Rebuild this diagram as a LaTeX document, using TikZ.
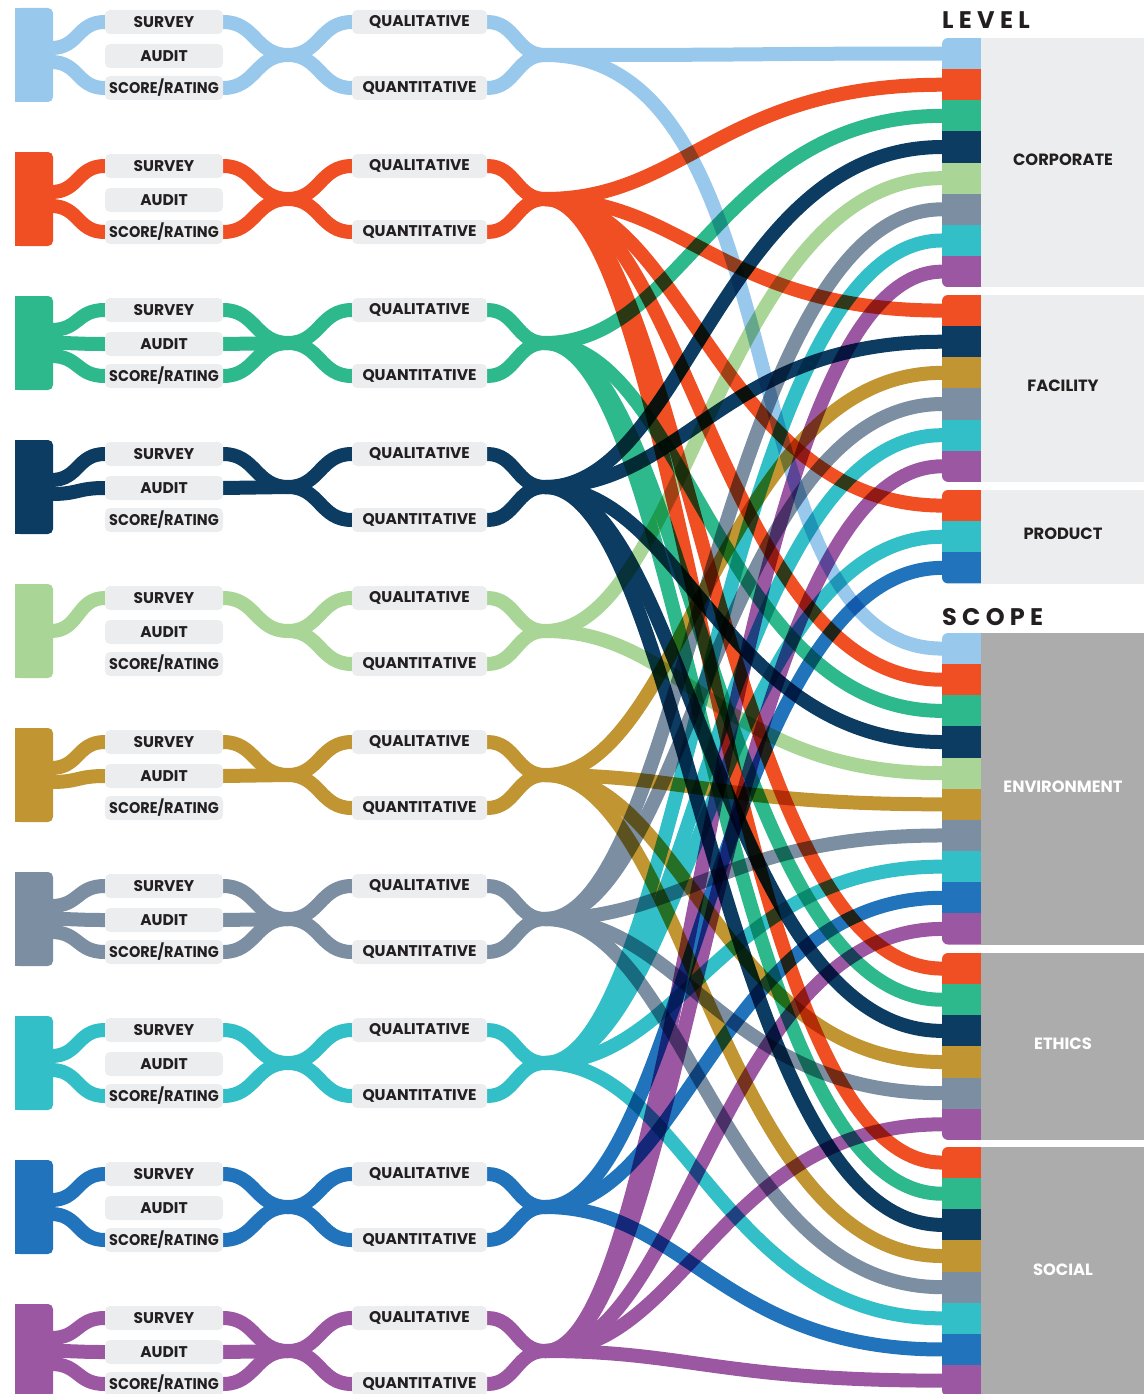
\documentclass[tikz,border=0pt]{standalone}
\usepackage{fontspec}
\setmainfont{Poppins}
\newfontfamily\headfont{Poppins}[LetterSpace=22]
\usetikzlibrary{calc}
\definecolor{lb}{HTML}{98C8EB}
\definecolor{or}{HTML}{F04E23}
\definecolor{gr}{HTML}{2DB98B}
\definecolor{nv}{HTML}{0C3C61}
\definecolor{lg}{HTML}{A9D696}
\definecolor{gd}{HTML}{C09532}
\definecolor{gy}{HTML}{7B8EA2}
\definecolor{tl}{HTML}{33BFC7}
\definecolor{bl}{HTML}{2174BC}
\definecolor{pu}{HTML}{9C57A3}
\definecolor{boxc}{HTML}{ECEDEF}
\definecolor{lvlc}{HTML}{ECEDEE}
\definecolor{scpc}{HTML}{ABACAB}
\definecolor{txt}{HTML}{231F20}
\pgfdeclarelayer{bg}
\pgfsetlayers{bg,main}
\tikzset{
  ribbon/.style={line width=14pt, line cap=butt},
  lbl/.style={fill=boxc, rounded corners=5pt, minimum height=24pt, inner sep=0pt,
    font=\bfseries\fontsize{15.5}{15.5}\selectfont, text=txt},
  mth/.style={lbl, minimum width=118pt},
  qq/.style={lbl, minimum width=135pt},
  tabbox/.style={rounded corners=5pt, minimum width=38pt, minimum height=94pt, inner sep=0pt},
  slotbox/.style={minimum width=39pt, minimum height=31.3pt, inner sep=0pt, outer sep=0pt},
  boxlabel/.style={font=\bfseries\fontsize{16.3}{16.3}\selectfont},
  heading/.style={font=\headfont\bfseries\fontsize{24}{24}\selectfont, text=txt, inner sep=0pt, anchor=base west},
}
% slot column: #1 prefix, #2 top y, #3 colours
\newcommand\slotcol[3]{%
  \begin{scope}
    \clip[rounded corners=6pt] (942,#2) rectangle (1000,{#2+31.15*\slotn});
    \foreach \c [count=\k from 0] in {#3} {
      \node[slotbox, fill=\c] (#1-\c) at (961.5,{#2+31.15*\k+15.575}) {};
    }
  \end{scope}}
% group: #1 index, #2 colour, #3 methods, #4 targets, #5 first control length
\newcommand\grp[5]{%
  \pgfmathsetmacro\cy{55+144*#1}
  \node[tabbox, fill=#2] (t#1) at (34,\cy) {};
  \fill[#2] (15,\cy-47) rectangle (28,\cy+47);
  \node[mth] (s#1) at (164,\cy-33) {SURVEY};
  \node[mth] (a#1) at (164,\cy+1) {AUDIT};
  \node[mth] (r#1) at (164,\cy+33) {\scalebox{0.93}[1]{SCORE/RATING}};
  \node[qq] (ql#1) at (419.5,\cy-33) {QUALITATIVE};
  \node[qq] (qn#1) at (419.5,\cy+33) {QUANTITATIVE};
  \coordinate (mb-#1) at (288,\cy);
  \coordinate (mc-#1) at (545,\cy);
  \begin{pgfonlayer}{bg}
    \begin{scope}[blend mode=multiply]
      \begin{scope}[transparency group]
        \foreach \m/\o in {#3} {
          \draw[ribbon,#2] ($(t#1.east)+(-2,\o)$) .. controls +(28,0) and +(-28,0) .. (\m#1.west)
            -- (\m#1.east) .. controls +(32.5,0) and +(-32.5,0) .. (mb-#1);
        }
        \foreach \q in {ql,qn} {
          \draw[ribbon,#2] (mb-#1) .. controls +(32,0) and +(-32,0) .. (\q#1.west)
            -- (\q#1.east) .. controls +(29,0) and +(-29,0) .. (mc-#1);
        }
        \foreach \tg in {#4} {
          \draw[ribbon,#2] (mc-#1) .. controls +(#5,0) and +(-220,0) .. (\tg.west);
        }
      \end{scope}
    \end{scope}
  \end{pgfonlayer}}
\begin{document}
\begin{tikzpicture}[x=1pt,y=-1pt]
\useasboundingbox (0,0) rectangle (1144,1394);
% target boxes
\fill[lvlc] (981,38) rectangle (1144,287.2);
\fill[lvlc] (981,295) rectangle (1144,481.9);
\fill[lvlc] (981,490) rectangle (1144,583.5);
\fill[scpc] (981,633) rectangle (1144,944.5);
\fill[scpc] (981,953) rectangle (1144,1139.9);
\fill[scpc] (981,1147) rectangle (1144,1400);
\node[boxlabel, text=txt] (lcorp) at (1063,160) {CORPORATE};
\node[boxlabel, text=txt] (lfac) at (1063,386) {FACILITY};
\node[boxlabel, text=txt] (lprod) at (1063,534) {PRODUCT};
\node[boxlabel, text=white] (lenv) at (1063,787) {ENVIRONMENT};
\node[boxlabel, text=white] (leth) at (1063,1044) {ETHICS};
\node[boxlabel, text=white] (lsoc) at (1063,1270) {SOCIAL};
\node[heading] (hlevel) at (942,29) {LEVEL};
\node[heading] (hscope) at (942,625) {SCOPE};
\def\slotn{8}\slotcol{corp}{38}{lb,or,gr,nv,lg,gy,tl,pu}
\def\slotn{6}\slotcol{fac}{295}{or,nv,gd,gy,tl,pu}
\def\slotn{3}\slotcol{prod}{490}{or,tl,bl}
\def\slotn{10}\slotcol{env}{633}{lb,or,gr,nv,lg,gd,gy,tl,bl,pu}
\def\slotn{6}\slotcol{eth}{953}{or,gr,nv,gd,gy,pu}
\def\slotn{8}\slotcol{soc}{1147}{or,gr,nv,gd,gy,tl,bl,pu}
% groups
\grp{0}{lb}{s/-7,r/7}{corp-lb,env-lb}{260}
\grp{1}{or}{s/-7,r/7}{corp-or,fac-or,prod-or,env-or,eth-or,soc-or}{140}
\grp{2}{gr}{s/-13,a/0,r/13}{corp-gr,env-gr,eth-gr,soc-gr}{140}
\grp{3}{nv}{s/-7,a/7}{corp-nv,fac-nv,env-nv,eth-nv,soc-nv}{140}
\grp{4}{lg}{s/0}{corp-lg,env-lg}{140}
\grp{5}{gd}{s/-7,a/7}{fac-gd,env-gd,eth-gd,soc-gd}{140}
\grp{6}{gy}{s/-13,a/0,r/13}{corp-gy,fac-gy,env-gy,eth-gy,soc-gy}{140}
\grp{7}{tl}{s/-7,r/7}{corp-tl,fac-tl,prod-tl,env-tl,soc-tl}{140}
\grp{8}{bl}{s/-7,r/7}{prod-bl,env-bl,soc-bl}{140}
\grp{9}{pu}{s/-13,a/0,r/13}{corp-pu,fac-pu,env-pu,eth-pu,soc-pu}{140}
\end{tikzpicture}
\end{document}
